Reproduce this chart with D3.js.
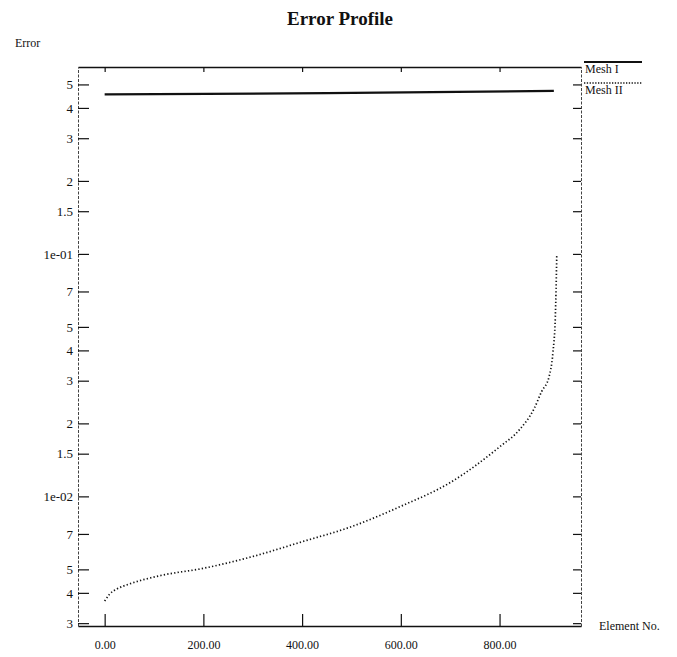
<!DOCTYPE html>
<html>
<head>
<meta charset="utf-8">
<script src="https://cdn.jsdelivr.net/npm/d3@7"></script>
<style>
  body { margin: 0; background: #fff; }
  svg { font-family: "Liberation Serif", "DejaVu Serif", serif; }
</style>
</head>
<body>
<div id="chart"></div>
<script>
// chart values
var xTicks = [0, 200, 400, 600, 800];
var yTicks = [0.003, 0.004, 0.005, 0.007, 0.01, 0.015, 0.02, 0.03, 0.04, 0.05, 0.07,
              0.1, 0.15, 0.2, 0.3, 0.4, 0.5];
var yTickLabels = ['3', '4', '5', '7', '1e-02', '1.5', '2', '3', '4', '5', '7',
                   '1e-01', '1.5', '2', '3', '4', '5'];

// Mesh I: flat error near 0.46
var elemMesh1 = [0, 450, 910];
var errMesh1 = [0.455, 0.46, 0.47];

// Mesh II: sorted element errors
var elemMesh2 = [0, 10, 25, 50, 110, 200, 300, 400, 500, 600, 700, 800, 840, 870, 885, 900, 908, 913, 916];
var errMesh2 = [0.0037, 0.00395, 0.00415, 0.00435, 0.0047, 0.00505, 0.00565, 0.0065, 0.0075, 0.0091,
                0.0114, 0.016, 0.0188, 0.023, 0.027, 0.031, 0.039, 0.055, 0.1];

var seriesNames = ['Mesh I', 'Mesh II'];

var width = 677, height = 657;
// plot frame (note: "top" is taken by window.top, so use other names)
var plotLeft = 78, plotRight = 581, plotTop = 67, plotBottom = 626;
var serif = '"Liberation Serif", "DejaVu Serif", serif';

var svg = d3.select('#chart').append('svg')
    .attr('width', width)
    .attr('height', height);

var x = d3.scaleLinear().domain([-54, 965]).range([plotLeft, plotRight]);
var y = d3.scaleLog().domain([0.00292, 0.59]).range([plotBottom, plotTop]);

// axes, ticks pointing into the plot
var gLeft = svg.append('g')
    .attr('transform', 'translate(' + plotLeft + ',0)')
    .call(d3.axisLeft(y).tickValues(yTicks)
        .tickFormat(function(d, i) { return yTickLabels[i]; })
        .tickSizeInner(-11).tickSizeOuter(0).tickPadding(5));

var gRight = svg.append('g')
    .attr('transform', 'translate(' + plotRight + ',0)')
    .call(d3.axisRight(y).tickValues(yTicks).tickFormat('')
        .tickSizeInner(-8).tickSizeOuter(0));

var gBottom = svg.append('g')
    .attr('transform', 'translate(0,' + plotBottom + ')')
    .call(d3.axisBottom(x).tickValues(xTicks).tickFormat(d3.format('.2f'))
        .tickSizeInner(-12).tickSizeOuter(0).tickPadding(14));

var gTop = svg.append('g')
    .attr('transform', 'translate(0,' + plotTop + ')')
    .call(d3.axisTop(x).tickValues(xTicks).tickFormat('')
        .tickSizeInner(-5).tickSizeOuter(0));

[gLeft, gRight, gBottom, gTop].forEach(function(g) {
    g.attr('font-family', serif);
});
svg.selectAll('.tick text')
    .attr('fill', '#111')
    .style('font-size', '13px');
gBottom.selectAll('.tick text').style('font-size', '12px');
svg.selectAll('.tick line').attr('stroke', '#111').attr('stroke-width', 1.2);

// scanned-looking side rules, solid top and bottom rules
gLeft.select('.domain').attr('stroke', '#444').attr('stroke-dasharray', '3,1.5');
gRight.select('.domain').attr('stroke', '#444').attr('stroke-dasharray', '3,1.5');
gBottom.select('.domain').attr('stroke', '#111').attr('stroke-width', 1.6);
gTop.select('.domain').attr('stroke', '#111').attr('stroke-width', 1.4);

// curves
var line = d3.line()
    .x(function(d) { return x(d[0]); })
    .y(function(d) { return y(d[1]); })
    .curve(d3.curveMonotoneX);

svg.append('path')
    .datum(d3.zip(elemMesh1, errMesh1))
    .attr('d', line)
    .attr('fill', 'none')
    .attr('stroke', '#111')
    .attr('stroke-width', 2.2);

svg.append('path')
    .datum(d3.zip(elemMesh2, errMesh2))
    .attr('d', line)
    .attr('fill', 'none')
    .attr('stroke', '#111')
    .attr('stroke-width', 1.7)
    .attr('stroke-dasharray', '1.3,2.2');

// legend at top right
var legend = svg.append('g').attr('transform', 'translate(584,0)');
seriesNames.forEach(function(name, i) {
    var ly = 62 + i * 21;
    legend.append('line')
        .attr('x1', 0).attr('x2', 58)
        .attr('y1', ly).attr('y2', ly)
        .attr('stroke', '#111')
        .attr('stroke-width', i === 0 ? 1.8 : 1.6)
        .attr('stroke-dasharray', i === 0 ? null : '1.3,1.5');
    legend.append('text')
        .attr('x', 1).attr('y', ly + 11)
        .style('font-size', '12px')
        .attr('fill', '#111')
        .text(name);
});

// titles
svg.append('text')
    .attr('x', 340).attr('y', 25)
    .attr('text-anchor', 'middle')
    .style('font-size', '19px')
    .style('font-weight', 'bold')
    .attr('fill', '#111')
    .text('Error Profile');

svg.append('text')
    .attr('x', 15).attr('y', 47)
    .style('font-size', '12px')
    .attr('fill', '#111')
    .text('Error');

svg.append('text')
    .attr('x', 599).attr('y', 630)
    .style('font-size', '12px')
    .attr('fill', '#111')
    .text('Element No.');
</script>
</body>
</html>
